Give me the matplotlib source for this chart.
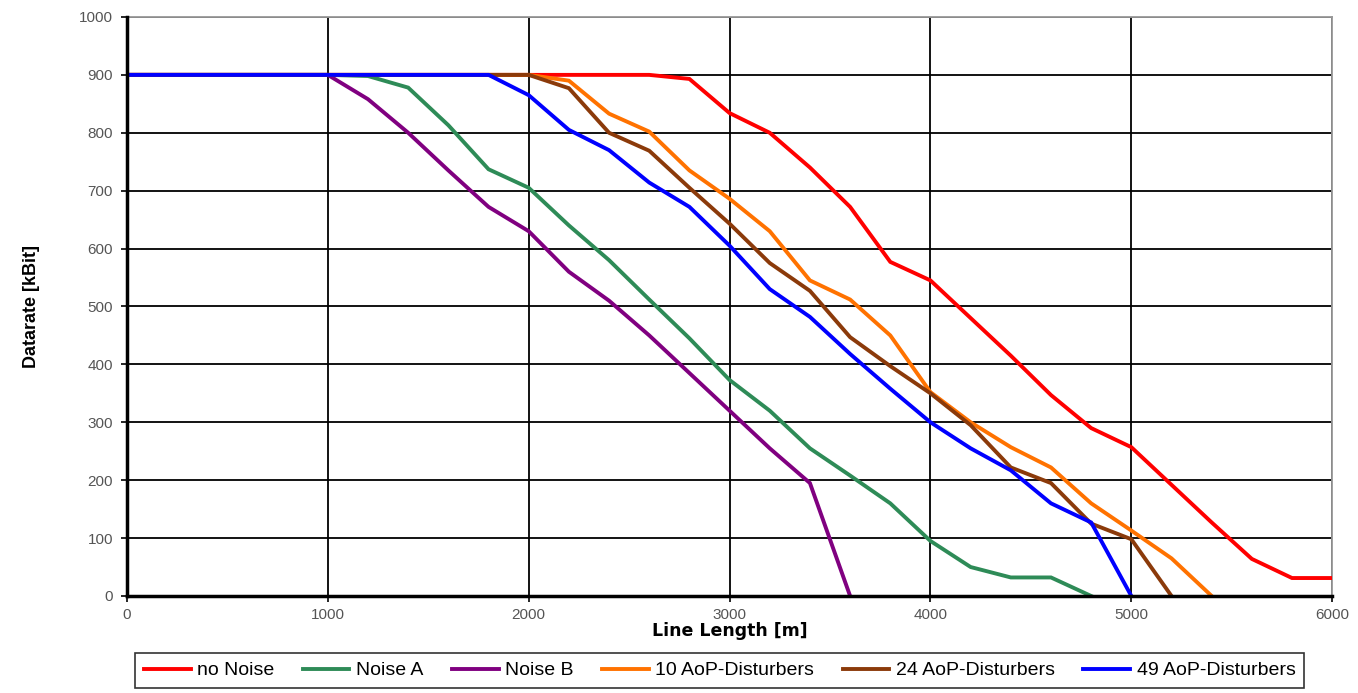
import matplotlib
matplotlib.use("Agg")
import matplotlib.pyplot as plt
import numpy as np

length_m = [0, 200, 400, 600, 800, 1000, 1200, 1400, 1600, 1800, 2000, 2200, 2400,
            2600, 2800, 3000, 3200, 3400, 3600, 3800, 4000, 4200, 4400, 4600, 4800,
            5000, 5200, 5400, 5600, 5800, 6000]

no_noise = [900, 900, 900, 900, 900, 900, 900, 900, 900, 900, 900, 900, 900,
            900, 893, 834, 800, 740, 672, 577, 545, 480, 415, 347, 290,
            257, 192, 127, 64, 31, 31]
noise_a = [900, 900, 900, 900, 900, 900, 898, 878, 813, 737, 705, 640, 580,
           512, 445, 373, 320, 255, 208, 160, 95, 50, 32, 32, 0]
noise_b = [900, 900, 900, 900, 900, 900, 858, 800, 735, 672, 630, 560, 510,
           450, 385, 320, 255, 195, 0]
aop_10 = [900, 900, 900, 900, 900, 900, 900, 900, 900, 900, 900, 890, 833,
          802, 735, 686, 630, 545, 512, 450, 352, 300, 257, 222, 160,
          113, 65, 0]
aop_24 = [900, 900, 900, 900, 900, 900, 900, 900, 900, 900, 900, 877, 800,
          769, 705, 643, 575, 527, 447, 397, 350, 295, 222, 195, 125,
          98, 0]
aop_49 = [900, 900, 900, 900, 900, 900, 900, 900, 900, 900, 865, 805, 770,
          714, 672, 605, 530, 482, 418, 358, 300, 255, 217, 160, 127, 0]

series = [
    ("no Noise", no_noise, "#ff0000"),
    ("Noise A", noise_a, "#2e8b57"),
    ("Noise B", noise_b, "#800080"),
    ("10 AoP-Disturbers", aop_10, "#ff7200"),
    ("24 AoP-Disturbers", aop_24, "#8b3a0a"),
    ("49 AoP-Disturbers", aop_49, "#0000ff"),
]

plt.rcParams['font.family'] = ['Liberation Sans', 'DejaVu Sans']

fig = plt.figure(figsize=(13.58, 6.93), dpi=100)
ax = fig.add_axes([0.0935, 0.14, 0.8875, 0.8355])

for name, vals, col in series:
    ax.plot(length_m[:len(vals)], vals, color=col, lw=2.8, label=name,
            solid_joinstyle='miter', zorder=3)

ax.set_xlim(0, 6000)
ax.set_ylim(0, 1000)
ax.set_xticks(np.arange(0, 6001, 1000))
ax.set_yticks(np.arange(0, 1001, 100))
ax.grid(True, color='black', lw=1.3, zorder=0)
ax.set_axisbelow(True)

for s in ['left', 'bottom']:
    ax.spines[s].set_linewidth(2.5)
    ax.spines[s].set_color('black')
    ax.spines[s].set_zorder(4)
for s in ['top', 'right']:
    ax.spines[s].set_linewidth(1.3)
    ax.spines[s].set_color('#999999')

ax.tick_params(axis='both', direction='out', length=4, width=1.2,
               labelsize=11, labelcolor='#555555', color='black')
ax.tick_params(axis='x', pad=5)
ax.tick_params(axis='y', pad=6)

ax.set_xlabel("Line Length [m]", fontsize=12.5, fontweight='bold', labelpad=0,
              family=['DejaVu Sans'])
ax.set_ylabel("Datarate [kBit]", fontsize=13, fontweight='bold', labelpad=28)

leg = fig.legend(loc='lower center', bbox_to_anchor=(0.53, 0.0), ncol=6,
                 frameon=True, fancybox=False, edgecolor='black',
                 handlelength=2.4, handletextpad=0.35,
                 columnspacing=1.45, borderpad=0.45, borderaxespad=0.25,
                 prop={'size': 14})
leg.get_frame().set_linewidth(1.2)

fig.savefig("out.png", dpi=100)
